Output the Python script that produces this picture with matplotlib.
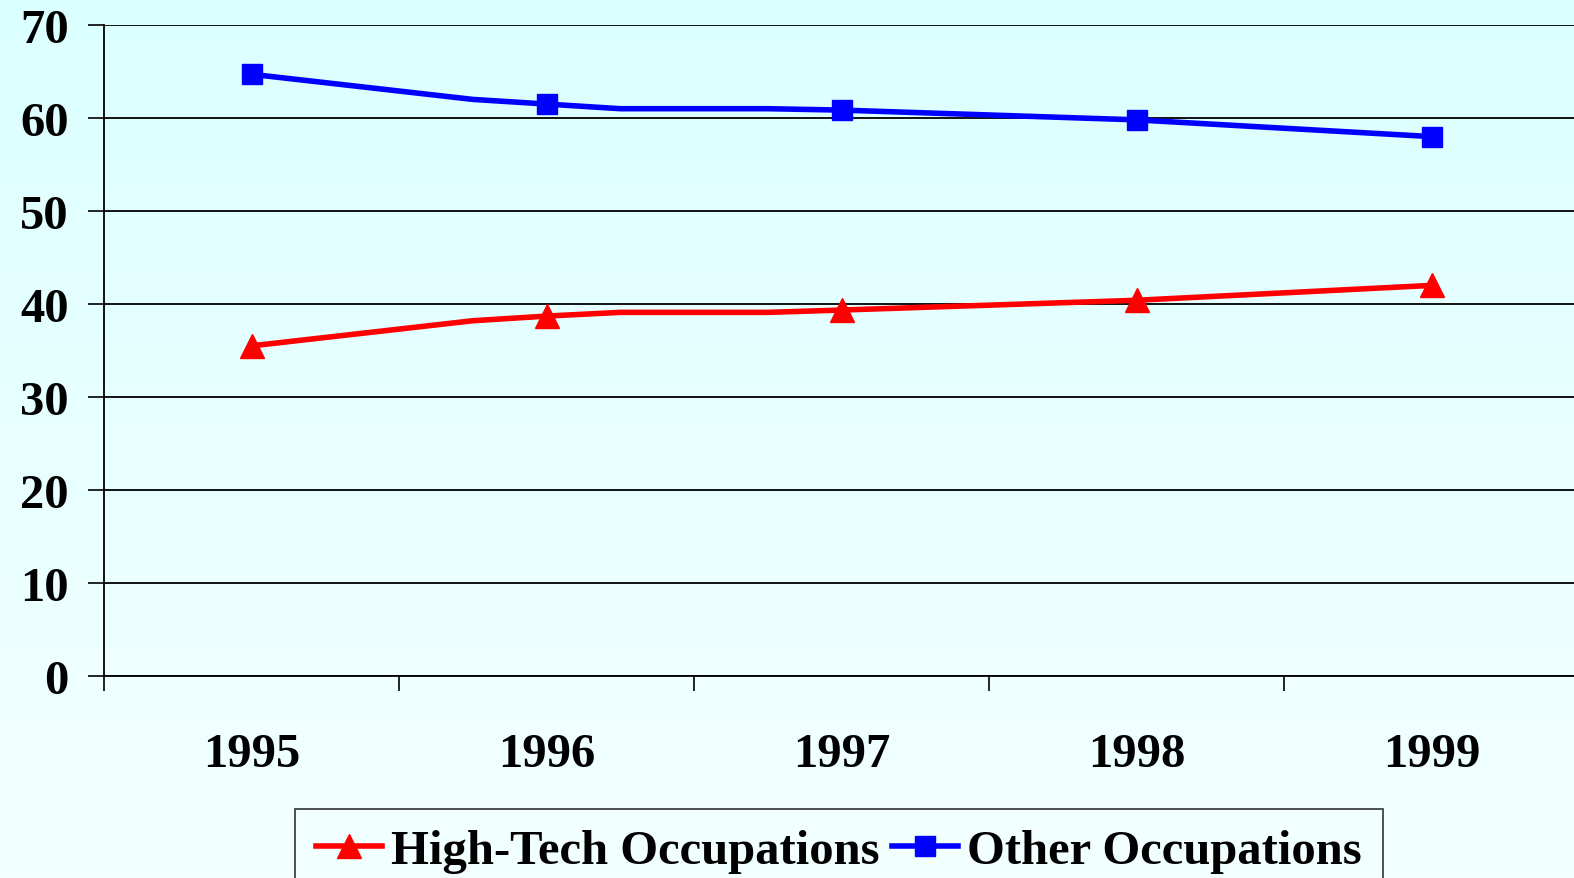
import numpy as np
import matplotlib
matplotlib.use('Agg')
import matplotlib.pyplot as plt

years = ['1995', '1996', '1997', '1998', '1999']
# positions along the category axis (extra unmarked bends between years)
xpos = [0, 0.75, 1, 1.25, 1.75, 2, 3, 4]
marked = [0, 2, 5, 6, 7]
high_tech = [35.5, 38.2, 38.7, 39.1, 39.1, 39.35, 40.4, 42.0]
other = [64.7, 62.0, 61.5, 61.0, 61.0, 60.85, 59.8, 58.0]
yticks = [0, 10, 20, 30, 40, 50, 60, 70]

plt.rcParams['font.family'] = ['Liberation Serif', 'DejaVu Serif']
plt.rcParams['font.weight'] = 'bold'

fig = plt.figure(figsize=(15.74, 8.79), dpi=100)

# background gradient
bg = fig.add_axes([0, 0, 1, 1], zorder=-10)
grad = np.linspace(0, 1, 256).reshape(-1, 1)
top = np.array([220, 255, 255]) / 255
bot = np.array([243, 255, 255]) / 255
img = top[None, None, :] * (1 - grad[:, :, None]) + bot[None, None, :] * grad[:, :, None]
bg.imshow(img, aspect='auto', extent=[0, 1, 0, 1])
bg.axis('off')

ax = fig.add_axes([104/1574, 1-677/879, (1579-104)/1574, (677-26)/879])
ax.patch.set_alpha(0)

ax.plot(xpos, high_tech, color='#ff0000', lw=4, marker='^', ms=17,
        markevery=marked, label='High-Tech Occupations', zorder=3)
ax.plot(xpos, other, color='#0000ff', lw=4, marker='s', ms=15,
        markevery=marked, label='Other Occupations', zorder=3)

ax.set_xlim(-0.5, 4.5)
ax.set_ylim(0, 70)
ax.set_yticks(yticks)
ax.set_yticklabels([str(v) for v in yticks], fontsize=35, fontweight='bold')
ax.set_xticks(range(len(years)))
ax.set_xticklabels(years, fontsize=35, fontweight='bold')
ax.set_xticks(np.arange(-0.5, 5, 1), minor=True)
ax.tick_params(axis='x', which='major', length=0, pad=40)
ax.tick_params(axis='x', which='minor', length=11, width=1.2, direction='out')
ax.tick_params(axis='y', length=11.5, width=1.2, pad=14)

ax.grid(axis='y', color='black', lw=1.3)
ax.set_axisbelow(True)
for s in ['top', 'right']:
    ax.spines[s].set_visible(False)
ax.spines['left'].set_linewidth(1.3)
ax.spines['bottom'].set_linewidth(1.3)

leg = fig.legend(loc='upper center', bbox_to_anchor=(839/1574, 1-810/879),
                 ncol=2, fontsize=35, frameon=True, fancybox=False,
                 handlelength=1.35, handletextpad=0.2, columnspacing=0.25,
                 numpoints=1, borderpad=0.42, borderaxespad=0,
                 edgecolor='black')
leg.get_frame().set_facecolor('none')
leg.get_frame().set_linewidth(1.2)

fig.savefig('out.png', dpi=100)
